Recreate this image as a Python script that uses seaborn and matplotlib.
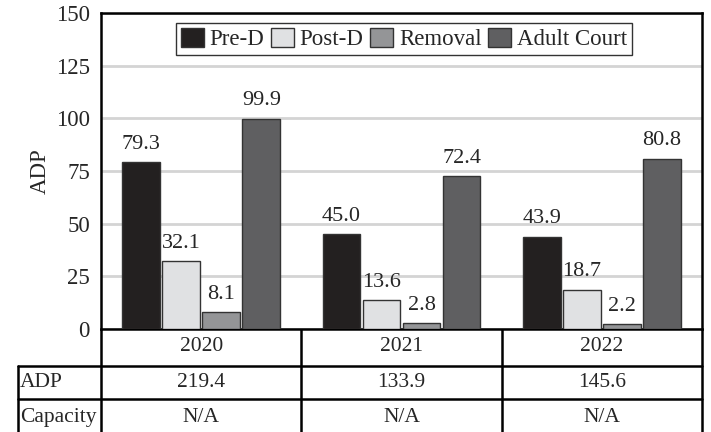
import pandas as pd
import matplotlib.pyplot as plt
import seaborn as sns

years = ['2020', '2021', '2022']
categories = ['Pre-D', 'Post-D', 'Removal', 'Adult Court']
pre_d = [79.3, 45.0, 43.9]
post_d = [32.1, 13.6, 18.7]
removal = [8.1, 2.8, 2.2]
adult_court = [99.9, 72.4, 80.8]
adp_total = ['219.4', '133.9', '145.6']
capacity = ['N/A', 'N/A', 'N/A']
colors = ['#231f20', '#e0e1e3', '#939598', '#5f5f61']

rows = []
for cat, vals in zip(categories, [pre_d, post_d, removal, adult_court]):
    for y, v in zip(years, vals):
        rows.append({'year': y, 'cat': cat, 'value': v})
df = pd.DataFrame(rows)

sns.set_style('white')
plt.rcParams['font.family'] = ['Liberation Serif', 'DejaVu Serif']

W, H = 711, 432
L, R, T, B = 101, 702, 13, 329
fig = plt.figure(figsize=(W / 100, H / 100), dpi=100)
ax = fig.add_axes([L / W, 1 - B / H, (R - L) / W, (B - T) / H])

sns.barplot(data=df, x='year', y='value', hue='cat', hue_order=categories,
            palette=colors, width=0.8, gap=0.06, edgecolor='#333333',
            linewidth=1, ax=ax, zorder=3)

for cont in ax.containers:
    ax.bar_label(cont, fmt='%.1f', padding=6, fontsize=16)

ax.set_ylim(0, 150)
ax.set_yticks([0, 25, 50, 75, 100, 125, 150])
ax.yaxis.grid(True, color='#d4d4d4', linewidth=2)
ax.set_axisbelow(True)
ax.tick_params(axis='y', length=0, pad=8, labelsize=16.5)
ax.tick_params(axis='x', length=0, pad=6, labelsize=15.5)
ax.set_xlabel('')
ax.set_ylabel('ADP', fontsize=16.5, labelpad=4)
for s in ax.spines.values():
    s.set_linewidth(1.8)
    s.set_color('black')

leg = ax.legend(loc='upper center', bbox_to_anchor=(0.504, 0.968), ncol=4,
                frameon=True, fancybox=False, edgecolor='black', fontsize=16.5,
                handlelength=1.0, handleheight=0.9, handletextpad=0.25,
                columnspacing=0.3, borderpad=0.2, borderaxespad=0)
leg.get_frame().set_linewidth(1.0)

# table below the chart, in pixel coordinates
tab = fig.add_axes([0, 0, 1, 1], zorder=-1)
tab.set_xlim(0, W)
tab.set_ylim(H, 0)
tab.axis('off')
lw = 1.8
row1, row2, row3 = 366, 399, 432
xs = [L + (R - L) * k / 3 for k in range(4)]
tab.plot([18, R], [row1, row1], color='black', lw=lw)
tab.plot([18, R], [row2, row2], color='black', lw=lw)
tab.plot([18, 18], [row1, H], color='black', lw=lw)
tab.plot([L, L], [B, H], color='black', lw=lw)
tab.plot([R, R], [B, H], color='black', lw=lw)
for x in xs[1:3]:
    tab.plot([x, x], [B - 7, H], color='black', lw=lw)

for label, vals, yy in [('ADP', adp_total, (row1 + row2) / 2),
                        ('Capacity', capacity, (row2 + row3) / 2 + 2)]:
    tab.text(20, yy, label, fontsize=15.5, ha='left', va='center')
    for k, v in enumerate(vals):
        tab.text((xs[k] + xs[k + 1]) / 2, yy, v, fontsize=15.5,
                 ha='center', va='center')

fig.savefig('out.png', dpi=100)
